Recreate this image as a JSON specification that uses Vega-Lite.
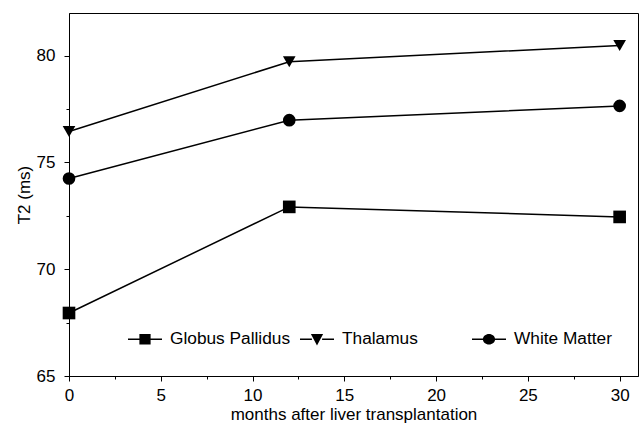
{
  "$schema": "https://vega.github.io/schema/vega-lite/v6.json",
  "autosize": "none",
  "padding": {"left": 69, "top": 13, "right": 6, "bottom": 54},
  "width": 569,
  "height": 363,
  "background": "white",
  "config": {
    "font": "Liberation Sans",
    "view": {"stroke": "black", "strokeWidth": 1},
    "axis": {
      "domainColor": "black",
      "tickColor": "black",
      "labelColor": "black",
      "titleColor": "black",
      "labelFont": "Liberation Sans",
      "titleFont": "Liberation Sans",
      "labelFontSize": 17,
      "titleFontSize": 17,
      "titleFontWeight": "normal",
      "grid": false
    }
  },
  "data": {
    "values": [
      {"series": "Globus Pallidus", "months": 0, "t2": 67.95},
      {"series": "Globus Pallidus", "months": 12, "t2": 72.92},
      {"series": "Globus Pallidus", "months": 30, "t2": 72.45},
      {"series": "Thalamus", "months": 0, "t2": 76.45},
      {"series": "Thalamus", "months": 12, "t2": 79.72},
      {"series": "Thalamus", "months": 30, "t2": 80.48},
      {"series": "White Matter", "months": 0, "t2": 74.25},
      {"series": "White Matter", "months": 12, "t2": 76.98},
      {"series": "White Matter", "months": 30, "t2": 77.65}
    ]
  },
  "encoding": {
    "x": {
      "field": "months", "type": "quantitative",
      "scale": {"domain": [0, 31], "nice": false, "zero": false},
      "axis": {
        "title": "months after liver transplantation",
        "values": [0, 2.5, 5, 7.5, 10, 12.5, 15, 17.5, 20, 22.5, 25, 27.5, 30],
        "labelExpr": "datum.value % 5 === 0 ? datum.label : ''",
        "tickSize": {"condition": {"test": "datum.value % 5 === 0", "value": 5}, "value": 3},
        "labelPadding": 6,
        "titlePadding": 3,
        "labelFlush": false
      }
    },
    "y": {
      "field": "t2", "type": "quantitative",
      "scale": {"domain": [65, 82], "nice": false, "zero": false},
      "axis": {
        "title": "T2 (ms)",
        "values": [65, 67.5, 70, 72.5, 75, 77.5, 80],
        "labelExpr": "datum.value % 5 === 0 ? datum.label : ''",
        "tickSize": {"condition": {"test": "datum.value % 5 === 0", "value": 5}, "value": 3},
        "labelPadding": 9,
        "titlePadding": 3
      }
    }
  },
  "resolve": {"scale": {"shape": "independent"}},
  "layer": [
    {
      "mark": {"type": "line", "color": "black", "strokeWidth": 1.5},
      "encoding": {"detail": {"field": "series"}}
    },
    {
      "mark": {"type": "point", "filled": true, "color": "black", "size": 160, "opacity": 1},
      "encoding": {
        "shape": {
          "field": "series", "type": "nominal",
          "scale": {"domain": ["Globus Pallidus", "Thalamus", "White Matter"], "range": ["square", "triangle-down", "circle"]},
          "legend": null
        }
      }
    },
    {
      "transform": [{"filter": "datum.months < 0"}],
      "mark": {"type": "point", "filled": true, "color": "black", "size": 1156, "opacity": 1},
      "encoding": {
        "shape": {
          "field": "series", "type": "nominal",
          "scale": {
            "domain": ["Globus Pallidus", "Thalamus", "White Matter"],
            "range": [
              "M-1,-0.045H-0.3V0.045H-1ZM0.3,-0.045H1V0.045H0.3ZM-0.33,-0.31H0.33V0.31H-0.33Z",
              "M-1,-0.045H-0.3V0.045H-1ZM0.3,-0.045H1V0.045H0.3ZM-0.36,-0.32H0.36L0,0.36Z",
              "M-1,-0.045H-0.3V0.045H-1ZM0.3,-0.045H1V0.045H0.3ZM-0.36,0A0.36,0.31,0,1,1,0.36,0A0.36,0.31,0,1,1,-0.36,0Z"
            ]
          },
          "legend": {
            "title": null,
            "orient": "none",
            "legendX": 59,
            "legendY": 309,
            "direction": "horizontal",
            "gridAlign": "all",
            "columnPadding": 9,
            "symbolSize": 1156,
            "symbolFillColor": "black",
            "symbolStrokeWidth": 0,
            "symbolOpacity": 1,
            "labelFont": "Liberation Sans",
            "labelFontSize": 17.3,
            "labelColor": "black",
            "labelOffset": 8,
            "labelLimit": 300
          }
        }
      }
    }
  ]
}
